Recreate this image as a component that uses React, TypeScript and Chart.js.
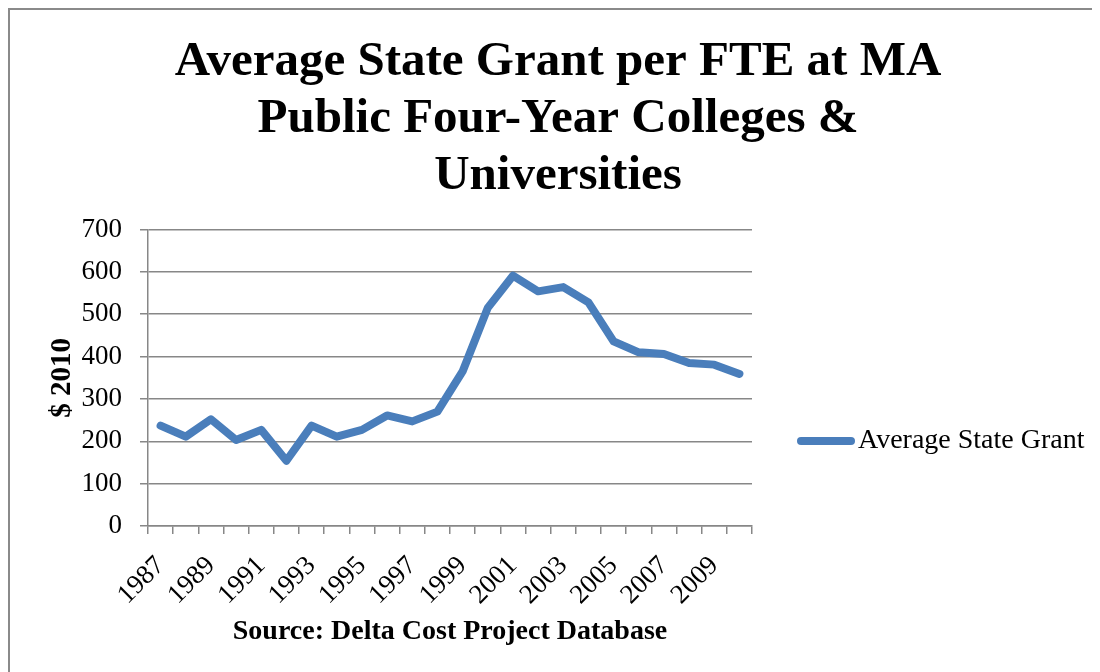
import React, { useEffect, useRef } from "react";
import { Chart, registerables } from "chart.js";

Chart.register(...registerables);

const titleLines = ["Average State Grant per FTE at MA", "Public Four-Year Colleges &", "Universities"];
const yTitle = "$ 2010";
const xTitle = "Source: Delta Cost Project Database";
const seriesName = "Average State Grant";
const years = [
  "1987", "1988", "1989", "1990", "1991", "1992", "1993", "1994", "1995", "1996", "1997", "1998",
  "1999", "2000", "2001", "2002", "2003", "2004", "2005", "2006", "2007", "2008", "2009", "2010",
];
const grants = [
  237, 211, 252, 203, 227, 154, 237, 211, 227, 261, 247, 270,
  365, 515, 591, 554, 564, 528, 436, 410, 406, 385, 381, 359,
];
const yMin = 0;
const yMax = 700;
const yStep = 100;

const LINE_COLOR = "#4a7ebb";
const GRID_COLOR = "#878787";
const SERIF = "'Liberation Serif', 'Times New Roman', serif";

const legendPlugin = {
  id: "sideLegend",
  afterDraw(chart: any) {
    const ctx = chart.ctx;
    const ds = chart.data.datasets[0];
    const x0 = chart.chartArea.right + 49;
    const y = 441;
    ctx.save();
    ctx.strokeStyle = ds.borderColor;
    ctx.lineWidth = 8;
    ctx.lineCap = "round";
    ctx.beginPath();
    ctx.moveTo(x0, y);
    ctx.lineTo(x0 + 50, y);
    ctx.stroke();
    ctx.fillStyle = "#000";
    ctx.font = "28px " + SERIF;
    ctx.textBaseline = "middle";
    ctx.textAlign = "left";
    ctx.fillText(ds.label, x0 + 57, y);
    ctx.restore();
  },
};

export default function App() {
  const ref = useRef<HTMLCanvasElement>(null);
  useEffect(() => {
    if (!ref.current) return;
    const chart = new Chart(ref.current, {
      type: "line",
      data: {
        labels: years,
        datasets: [
          {
            label: seriesName,
            data: grants,
            borderColor: LINE_COLOR,
            backgroundColor: LINE_COLOR,
            borderWidth: 8,
            borderCapStyle: "round",
            borderJoinStyle: "round",
            pointRadius: 0,
            tension: 0,
            fill: false,
            yAxisID: "y",
          },
        ],
      },
      options: {
        responsive: false,
        animation: false,
        layout: { padding: { top: 0, left: 16, right: 0, bottom: 0 } },
        plugins: {
          legend: { display: false },
          tooltip: { enabled: false },
          title: {
            display: true,
            text: titleLines,
            color: "#000",
            font: { family: SERIF, size: 49, weight: "bold", lineHeight: 1.16 },
            padding: { top: 34, bottom: 25 },
          },
        },
        scales: {
          x: {
            type: "category",
            offset: true,
            afterFit: (s: any) => {
              s.height = 146;
            },
            grid: {
              offset: true,
              drawOnChartArea: false,
              drawTicks: true,
              tickLength: 8,
              color: GRID_COLOR,
              lineWidth: 1.5,
            },
            border: { color: GRID_COLOR, width: 1.5 },
            ticks: {
              autoSkip: false,
              minRotation: 45,
              maxRotation: 45,
              padding: 16,
              color: "#000",
              font: { family: SERIF, size: 27 },
              callback: (_v: any, i: number) => (i % 2 === 0 ? years[i] : ""),
            },
            title: {
              display: true,
              text: xTitle,
              color: "#000",
              font: { family: SERIF, size: 28, weight: "bold" },
              padding: { top: 0, bottom: 23 },
            },
          },
          y: {
            position: "left",
            min: yMin,
            max: yMax,
            afterFit: (s: any) => {
              s.width = 132;
            },
            grid: {
              color: GRID_COLOR,
              lineWidth: 1.5,
              tickLength: 8,
              drawTicks: true,
            },
            border: { color: GRID_COLOR, width: 1.5 },
            ticks: {
              stepSize: yStep,
              padding: 18,
              color: "#000",
              font: { family: SERIF, size: 27 },
            },
            title: {
              display: true,
              text: yTitle,
              color: "#000",
              font: { family: SERIF, size: 29, weight: "bold" },
              padding: { top: 29, bottom: 4 },
            },
          },
          legendSpace: {
            type: "linear",
            position: "right",
            display: true,
            afterFit: (s: any) => {
              s.width = 348;
            },
            grid: { display: false },
            border: { display: false },
            ticks: { display: false },
          },
        },
      },
      plugins: [legendPlugin],
    } as any);
    return () => chart.destroy();
  }, []);

  return (
    <div
      style={{
        position: "relative",
        width: 1092,
        height: 664,
        boxSizing: "border-box",
        borderTop: "2px solid #8a8a8a",
        borderLeft: "2px solid #8a8a8a",
        background: "#fff",
      }}
    >
      <canvas
        ref={ref}
        width={1100}
        height={672}
        style={{ position: "absolute", left: -10, top: -10, width: 1100, height: 672 }}
      />
    </div>
  );
}
